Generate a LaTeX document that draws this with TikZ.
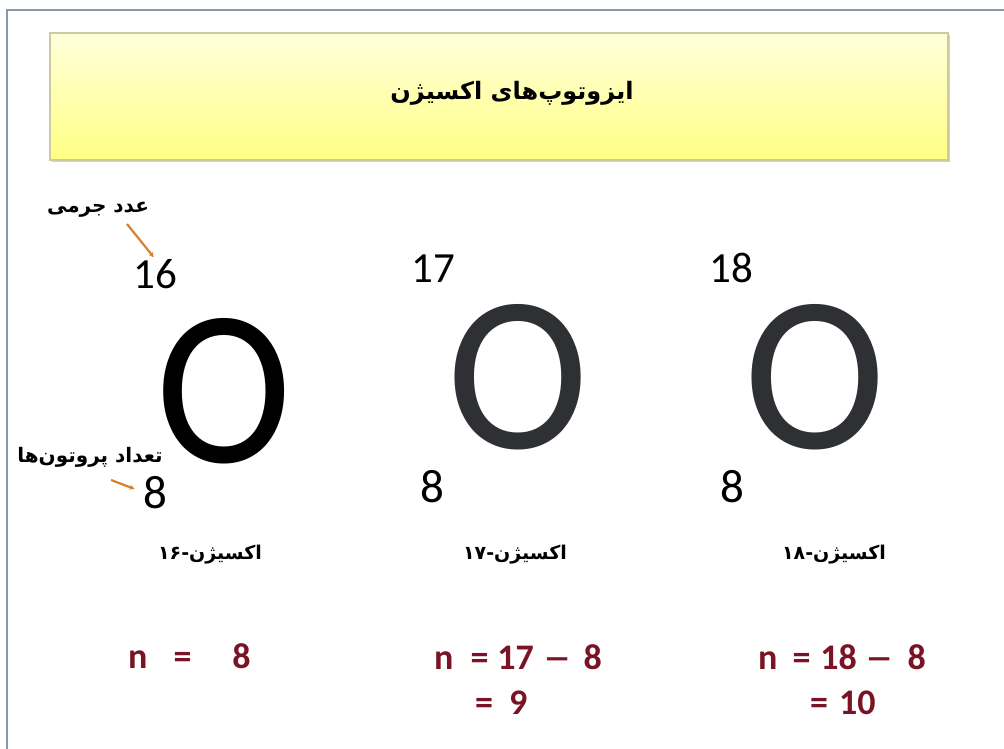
\documentclass[tikz,border=0pt]{standalone}
\usepackage{fontspec}
\setmainfont{Carlito}
\newfontfamily\fa[Script=Arabic]{DejaVu Sans}
\TeXXeTstate=1
\usetikzlibrary{arrows.meta}
\definecolor{frameC}{HTML}{8A96AA}
\definecolor{boxTop}{HTML}{FFFFDA}
\definecolor{boxBot}{HTML}{FFFF85}
\definecolor{boxLine}{HTML}{CFC9A0}
\definecolor{nred}{HTML}{7A1424}
\definecolor{oGray}{HTML}{2E3033}
\definecolor{arrC}{HTML}{D9822B}
\tikzset{
  bigO/.style={font=\fontsize{222}{222}\selectfont, inner sep=0pt, anchor=base, text height=148pt, text depth=0pt},
  massnum/.style={font=\fontsize{43}{43}\selectfont, inner sep=0pt, anchor=base west},
  protnum/.style={font=\fontsize{47}{47}\selectfont, inner sep=0pt, anchor=base west},
  faLabel/.style={font=\fa\bfseries\fontsize{19}{22}\selectfont, inner sep=1pt},
  faNote/.style={font=\fa\bfseries\fontsize{20}{22}\selectfont, inner sep=0pt},
  eqn/.style={font=\bfseries\fontsize{36}{36}\selectfont, text=nred, inner sep=0pt, anchor=base west},
  pointer/.style={draw=arrC, line width=2.2pt, -{Stealth[length=5pt,width=5pt]}},
}
\newcommand{\longdash}{\scalebox{1.6}[1]{–}}
\begin{document}
\begin{tikzpicture}[x=1pt,y=-1pt]
\useasboundingbox (0,0) rectangle (1004,749);
\fill[white] (0,0) rectangle (1004,749);
% frame
\draw[frameC, line width=2pt] (7,760) -- (7,10) -- (1010,10);
% title box
\fill[black!18] (52,35) rectangle (950,162);
\shade[top color=boxTop, bottom color=boxBot] (50,33) rectangle (948,160);
\draw[boxLine, line width=1.5pt] (50,33) rectangle (948,160);
\node[font=\fa\bfseries\fontsize{24}{28}\selectfont] (title) at (512,93) {\beginR ایزوتوپ^^^^200cهای اکسیژن\endR};

% big O's
\node[bigO, text=black] (O1) at (224,462) {\scalebox{0.92}[1]{O}};
\node[bigO, text=oGray] (O2) at (518,448) {\scalebox{0.96}[1]{O}};
\node[bigO, text=oGray] (O3) at (815,448) {\scalebox{0.96}[1]{O}};

% mass numbers
\node[massnum] (m1) at (133,288) {16};
\node[massnum] (m2) at (411,282) {17};
\node[massnum] (m3) at (709,282) {18};
% atomic numbers
\node[protnum] (z1) at (143,508) {8};
\node[protnum] (z2) at (420,502) {8};
\node[protnum] (z3) at (720,502) {8};

% annotations
\node[faNote] (massLbl) at (98,210) {\beginR عدد جرمی\endR};
\node[faNote] (protLbl) at (90,457) {\beginR تعداد پروتون^^^^200cها\endR};
\coordinate (ma) at (127,224);
\coordinate (pa) at (111,480);
\draw[pointer, shorten >=2pt] (ma) -- (m1.north);
\draw[pointer, shorten >=9pt] (pa) -- (z1.west);

% isotope names
\node[faLabel] (n1) at (210,555) {\beginR اکسیژن-\beginL ۱۶\endL\endR};
\node[faLabel] (n2) at (515,555) {\beginR اکسیژن-\beginL ۱۷\endL\endR};
\node[faLabel] (n3) at (834,555) {\beginR اکسیژن-\beginL ۱۸\endL\endR};

% neutron counts
\node[eqn] (e1) at (128,668) {n\hspace{26pt}=\hspace{41pt}8};
\node[eqn] (e2) at (434,669) {n\hspace{17pt}=\hspace{9pt}17\hspace{9pt}\longdash\hspace{12pt}8};
\node[eqn] (e2b) at (475,714) {=\hspace{16pt}9};
\node[eqn] (e3) at (758,669) {n\hspace{15pt}=\hspace{10pt}18\hspace{8pt}\longdash\hspace{14pt}8};
\node[eqn] (e3b) at (810,714) {=\hspace{11pt}10};
\end{tikzpicture}
\end{document}
